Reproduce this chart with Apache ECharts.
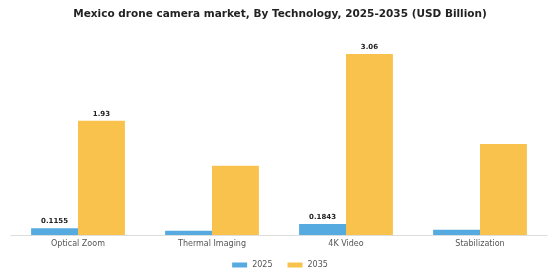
<!DOCTYPE html>
<html>
<head>
<meta charset="utf-8">
<script src="https://cdn.jsdelivr.net/npm/echarts@6/dist/echarts.min.js"></script>
<style>
  html, body { margin: 0; padding: 0; background: #fff; }
  #container { width: 560px; height: 280px; }
</style>
</head>
<body>
<div id="container"></div>
<script>
var categories = ['Optical Zoom', 'Thermal Imaging', '4K Video', 'Stabilization'];
var values2025 = [0.1155, 0.07, 0.1843, 0.09];
var values2035 = [1.93, 1.17, 3.06, 1.54];
// only these bars carry a value label in the original
var labelled = [true, false, true, false];

var dom = document.getElementById('container');
var myChart = echarts.init(dom);

function makeData(vals) {
    return vals.map(function (v, i) {
        return {
            value: v,
            label: { show: labelled[i] }
        };
    });
}

var barLabel = {
    position: 'top',
    fontSize: 7,
    fontWeight: 'bold',
    color: '#222',
    distance: 3,
    fontFamily: 'DejaVu Sans'
};

var option = {
    title: {
        text: 'Mexico drone camera market, By Technology, 2025-2035 (USD Billion)',
        left: 'center',
        top: 4,
        textStyle: {
            fontSize: 10.5,
            fontWeight: 'bold',
            color: '#222',
            fontFamily: 'DejaVu Sans'
        }
    },
    color: ['#55AAE0', '#F9C24D'],
    legend: {
        bottom: 6,
        left: 'center',
        itemWidth: 15,
        itemHeight: 5,
        itemGap: 15,
        icon: 'rect',
        textStyle: { fontSize: 8, color: '#555', fontFamily: 'DejaVu Sans' },
        data: ['2025', '2035']
    },
    grid: { left: 11, right: 13, top: 28, bottom: 45 },
    xAxis: {
        type: 'category',
        data: categories,
        axisLine: { lineStyle: { color: '#ddd' } },
        axisTick: { show: false },
        axisLabel: { fontSize: 8, color: '#555', margin: 5, fontFamily: 'DejaVu Sans' }
    },
    yAxis: {
        type: 'value',
        min: 0,
        max: 3.5,
        show: false,
        splitLine: { show: false }
    },
    series: [{
        name: '2025',
        type: 'bar',
        barWidth: '35%',
        barGap: '0%',
        label: barLabel,
        data: makeData(values2025)
    }, {
        name: '2035',
        type: 'bar',
        barWidth: '35%',
        barGap: '0%',
        label: barLabel,
        data: makeData(values2035)
    }]
};
myChart.setOption(option, true);
</script>
</body>
</html>
